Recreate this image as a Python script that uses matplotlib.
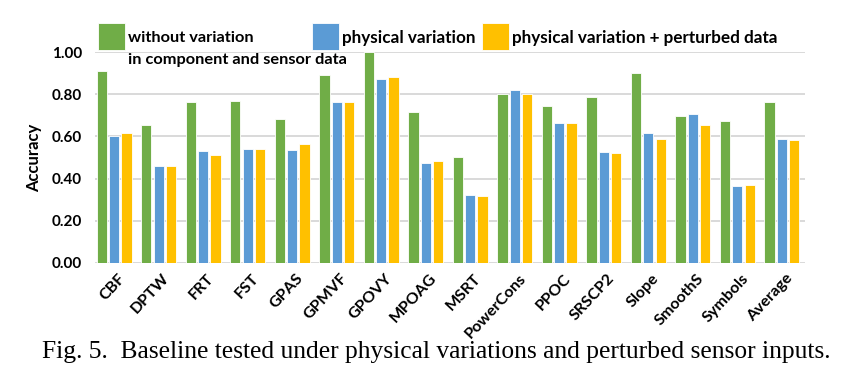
import matplotlib
matplotlib.use("Agg")
import matplotlib.pyplot as plt
import numpy as np
from matplotlib.patches import Rectangle

categories = ["CBF", "DPTW", "FRT", "FST", "GPAS", "GPMVF", "GPOVY", "MPOAG", "MSRT",
              "PowerCons", "PPOC", "SRSCP2", "Slope", "SmoothS", "Symbols", "Average"]
without_var = [0.908, 0.655, 0.761, 0.766, 0.682, 0.893, 1.00, 0.714, 0.503,
               0.801, 0.744, 0.785, 0.902, 0.695, 0.671, 0.764]
phys_var = [0.604, 0.459, 0.533, 0.540, 0.535, 0.761, 0.870, 0.476, 0.323,
            0.821, 0.665, 0.524, 0.617, 0.706, 0.367, 0.587]
phys_pert = [0.614, 0.462, 0.514, 0.540, 0.563, 0.761, 0.883, 0.484, 0.316,
             0.799, 0.665, 0.519, 0.587, 0.653, 0.370, 0.582]
yticks = [0.0, 0.2, 0.4, 0.6, 0.8, 1.0]
series_names = [["without variation", "in component and sensor data"],
                ["physical variation"], ["physical variation + perturbed data"]]
colors = ["#70AD47", "#5B9BD5", "#FFC000"]
caption = "Fig. 5.  Baseline tested under physical variations and perturbed sensor inputs."

FONT = "Lato"
fig = plt.figure(figsize=(8.54, 3.72), dpi=100)
ax = fig.add_axes([95/854, 1-263/372, 710/854, 211/372])

x = np.arange(len(categories))
w = 0.23
off = 0.277
for i, (vals, c) in enumerate(zip([without_var, phys_var, phys_pert], colors)):
    ax.bar(x + (i-1)*off, vals, width=w, color=c, edgecolor="white", linewidth=0.6, zorder=3)

ax.set_xlim(-0.43, len(categories)-1+0.52)
ax.set_ylim(0, 1.0)
ax.set_yticks(yticks)
ax.set_yticklabels([f"{t:.2f}" for t in yticks], fontsize=11, fontweight="bold", family=FONT)
ax.set_xticks(x + 0.08)
ax.set_xticklabels(categories, rotation=47, ha="right", va="top", rotation_mode="anchor",
                   fontsize=11.5, fontweight="bold", family=FONT)
ax.tick_params(axis="both", length=0)
ax.tick_params(axis="y", pad=9.5)
ax.tick_params(axis="x", pad=6)
ax.grid(axis="y", color="#D9D9D9", linewidth=1.4, zorder=0)
ax.set_axisbelow(True)
for s in ax.spines.values():
    s.set_visible(False)
ax.set_ylabel("Accuracy", fontsize=12, fontweight="bold", family=FONT, labelpad=7)
ax.patch.set_alpha(0)

# legend
leg_x = [98, 312, 482]
for k, (lx, c, lines) in enumerate(zip(leg_x, colors, series_names)):
    fig.patches.append(Rectangle((lx/854, 1-50/372), 27/854, 27/372, transform=fig.transFigure,
                                 facecolor=c, edgecolor="white", linewidth=0.6, zorder=5))
    fs = 11.8 if k == 0 else 12.3
    for j, line in enumerate(lines):
        fig.text((lx+30)/854, 1-(38 + 22*j)/372, line, fontsize=fs, fontweight="bold",
                 family=FONT, va="center", ha="left", zorder=6)

fig.text(42/854, 1-352/372, caption, family="Liberation Serif", fontsize=18.4,
         va="center", ha="left")

fig.savefig("out.png", dpi=100)
